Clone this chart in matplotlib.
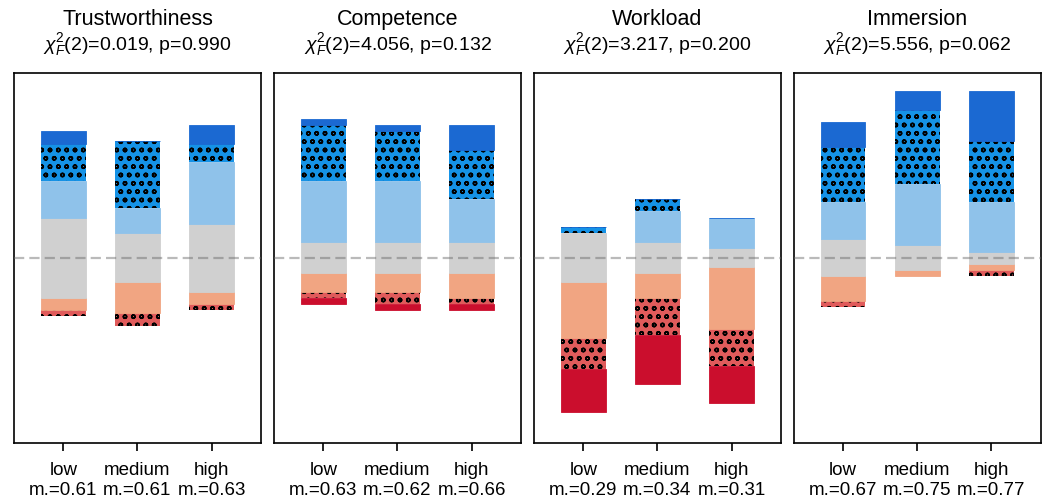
import numpy as np
import matplotlib
matplotlib.use("Agg")
import matplotlib.pyplot as plt

plt.rcParams['font.family'] = ['Liberation Sans', 'DejaVu Sans']
plt.rcParams['mathtext.fontset'] = 'custom'
plt.rcParams['mathtext.rm'] = 'Liberation Sans'
plt.rcParams['mathtext.it'] = 'Liberation Sans:italic'
plt.rcParams['hatch.linewidth'] = 1.1

levels = ['low', 'medium', 'high']
scales = ['Trustworthiness', 'Competence', 'Workload', 'Immersion']
chi2 = [0.019, 4.056, 3.217, 5.556]
pvals = [0.990, 0.132, 0.200, 0.062]
means = [
    [0.61, 0.61, 0.63],
    [0.63, 0.62, 0.66],
    [0.29, 0.34, 0.31],
    [0.67, 0.75, 0.77],
]

# response counts per level, 7-point scale from strongly disagree to strongly agree
trust_counts = [[0, 1, 2, 13, 6, 6, 2], [0, 2, 5, 8, 4, 11, 0], [0, 1, 2, 11, 10, 3, 3]]
comp_counts = [[1, 1, 3, 5, 10, 9, 1], [1, 2, 3, 5, 10, 8, 1], [1, 1, 4, 5, 7, 8, 4]]
work_counts = [[7, 5, 9, 8, 0, 1, 0], [8, 6, 4, 5, 5, 2, 0], [6, 6, 10, 3, 5, 0, 0]]
imm_counts = [[0, 1, 4, 6, 6, 9, 4], [0, 0, 1, 4, 10, 12, 3], [0, 1, 1, 2, 8, 10, 8]]
all_counts = [trust_counts, comp_counts, work_counts, imm_counts]

colors = ['#cb0e2d', '#e05b5b', '#f1a582', '#d0d0d0', '#8fc2ea', '#1592e6', '#1b69d2']
hatches = [None, 'oo', None, None, None, 'oo', None]

fig = plt.figure(figsize=(10.46, 5.01), dpi=100)

lefts = [0.0134, 0.262, 0.5105, 0.759]
for p, (name, counts) in enumerate(zip(scales, all_counts)):
    ax = fig.add_axes([lefts[p], 0.1164, 0.236, 0.7385])
    x = np.arange(len(levels))
    for i, c in enumerate(counts):
        c = np.array(c, dtype=float) / sum(c)
        # center each bar on the middle of the neutral segment
        bottom = -(c[:3].sum() + c[3] / 2)
        for k in range(7):
            if hatches[k]:
                ax.bar(x[i], c[k], width=0.6, bottom=bottom, color=colors[k],
                       hatch=hatches[k], edgecolor='black', linewidth=0)
            elif c[k] > 0 or k == 6:
                ax.bar(x[i], c[k], width=0.6, bottom=bottom, color=colors[k],
                       edgecolor=colors[k], linewidth=0.6)
            bottom += c[k]
    ax.axhline(0, color='#666666', alpha=0.45, linewidth=1.6, linestyle=(0, (4.6, 2.3)), zorder=5)
    ax.set_xlim(-0.665, 2.665)
    ax.set_ylim(-1, 1)
    ax.set_yticks([])
    ax.set_xticks(x)
    ax.set_xticklabels([f'{l}\nm.={m:.2f}' for l, m in zip(levels, means[p])], fontsize=13.5)
    ax.tick_params(axis='x', length=6, width=1.2, pad=8)
    for s in ax.spines.values():
        s.set_linewidth(1.2)
    ax.annotate(name, (0.5, 1), xycoords='axes fraction', xytext=(0, 34.3),
                textcoords='offset points', ha='center', va='baseline', fontsize=15.5)
    ax.annotate(f'$\\chi^2_F(2)$={chi2[p]:.3f}, p={pvals[p]:.3f}', (0.5, 1),
                xycoords='axes fraction', xytext=(0, 16.3), textcoords='offset points',
                ha='center', va='baseline', fontsize=14)

fig.savefig('out.png', dpi=100)
